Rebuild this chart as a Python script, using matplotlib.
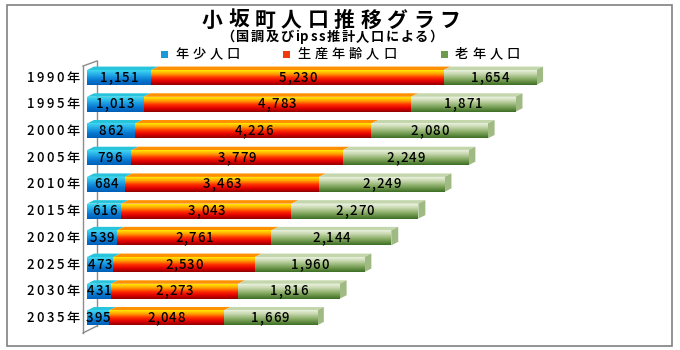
import numpy as np
import matplotlib
matplotlib.use('Agg')
import matplotlib.pyplot as plt
from matplotlib.colors import LinearSegmentedColormap
from matplotlib.patches import Polygon, Rectangle
from matplotlib.lines import Line2D

plt.rcParams['font.family'] = ['Noto Sans CJK JP', 'DejaVu Sans']

# data
years = ['1990年', '1995年', '2000年', '2005年', '2010年',
         '2015年', '2020年', '2025年', '2030年', '2035年']
young = [1151, 1013, 862, 796, 684, 616, 539, 473, 431, 395]
working = [5230, 4783, 4226, 3779, 3463, 3043, 2761, 2530, 2273, 2048]
old = [1654, 1871, 2080, 2249, 2249, 2270, 2144, 1960, 1816, 1669]
series_names = ['年少人口', '生産年齢人口', '老年人口']

W, H = 680, 350
fig = plt.figure(figsize=(W / 100, H / 100), dpi=100)
ax = fig.add_axes([87 / W, 16 / H, 503 / W, 272.5 / H])
ax.set_xlim(0, 9000)
ax.set_ylim(9.6, -0.6)
ax.axis('off')

# gradient colour ramps (top -> bottom) and flat faces
ramps = [
    ['#40D8F0', '#22A8E8', '#0878D0', '#0060B8'],
    ['#FFE800', '#FFA000', '#FF3000', '#E00000', '#900000'],
    ['#E8F0DC', '#C8D8B0', '#98B878', '#6A9448', '#3E6E26'],
]
top_cols = ['#28C4DC', '#FF9000', '#C4D6AC']
side_col = '#A0BA84'

h = 0.56
dx = 125
dy = 0.13
grad = np.linspace(0, 1, 64).reshape(-1, 1)

lefts = np.zeros(len(years))
for k, vals in enumerate([young, working, old]):
    vals = np.array(vals)
    cmap = LinearSegmentedColormap.from_list('c%d' % k, ramps[k])
    bars = ax.barh(range(len(years)), vals, left=lefts, height=h,
                   color=ramps[k][2], linewidth=0, zorder=2)
    for i, b in enumerate(bars):
        l, w = lefts[i], vals[i]
        im = ax.imshow(grad, cmap=cmap, aspect='auto', origin='upper',
                       extent=(l, l + w, i + h / 2, i - h / 2), zorder=3)
        im.set_clip_path(b)
        ax.add_patch(Polygon([(l, i - h / 2), (l + w, i - h / 2),
                              (l + w + dx, i - h / 2 - dy), (l + dx, i - h / 2 - dy)],
                             closed=True, facecolor=top_cols[k], edgecolor='none', zorder=2))
        if k == 2:
            ax.add_patch(Polygon([(l + w, i - h / 2), (l + w + dx, i - h / 2 - dy),
                                  (l + w + dx, i + h / 2 - dy), (l + w, i + h / 2)],
                                 closed=True, facecolor=side_col, edgecolor='none', zorder=2))
    lefts = lefts + vals
ax.set_xlim(0, 9000)
ax.set_ylim(9.6, -0.6)

# back wall lines
wall = '#8C8C8C'
for xs, ys in [([-72, -72], [-0.43, 9.56]), ([-72, 179], [-0.43, -0.62]),
               ([-72, 179], [9.56, 9.30]), ([179, 179], [-0.62, 9.30])]:
    ax.add_line(Line2D(xs, ys, color=wall, lw=1, clip_on=False, zorder=0))

renderer = fig.canvas.get_renderer()


def spaced(x, y, s, size, gap, ha='center', weight='normal', z=5):
    # draw text char by char with extra letter spacing (display px)
    parts = [fig.text(0, 0, ch, fontsize=size, fontweight=weight, transform=None,
                      ha='left', va='center', zorder=z) for ch in s]
    widths = [p.get_window_extent(renderer).width for p in parts]
    total = sum(widths) + gap * (len(s) - 1)
    start = {'center': x - total / 2, 'left': x, 'right': x - total}[ha]
    for p, w in zip(parts, widths):
        p.set_position((start, y))
        start += w + gap


# value labels
lefts = np.zeros(len(years))
for vals in [young, working, old]:
    for i, v in enumerate(vals):
        px, py = ax.transData.transform((lefts[i] + v / 2, i))
        spaced(px, py, f'{v:,}', 9.5, 1.0, weight='medium')
    lefts = lefts + np.array(vals)

# year labels
for i, yr in enumerate(years):
    px, py = ax.transData.transform((0, i))
    spaced(80, py, yr, 9.5, 2.5, ha='right', weight='medium')

# title, subtitle
spaced(331, H - 20, '小坂町人口推移グラフ', 15, 5.5, weight='bold')
spaced(332, H - 37, '（国調及びipss推計人口による）', 9.5, 1.5, weight='bold')

# legend
leg_x = [161, 283, 441]
leg_cols = ['#1A98D8', '#F03A10', '#6E9A4E']
for x0, name, c in zip(leg_x, series_names, leg_cols):
    fig.add_artist(Rectangle((x0, H - 58), 7, 7, transform=None,
                             facecolor=c, edgecolor='none'))
    spaced(x0 + 14, H - 54, name, 9.5, 4, ha='left', weight='medium')

# outer border
fig.add_artist(Rectangle((7, H - 346), 665, 341, transform=None, fill=False,
                         edgecolor='#808080', lw=1.2))

fig.savefig('out.png', dpi=100)
